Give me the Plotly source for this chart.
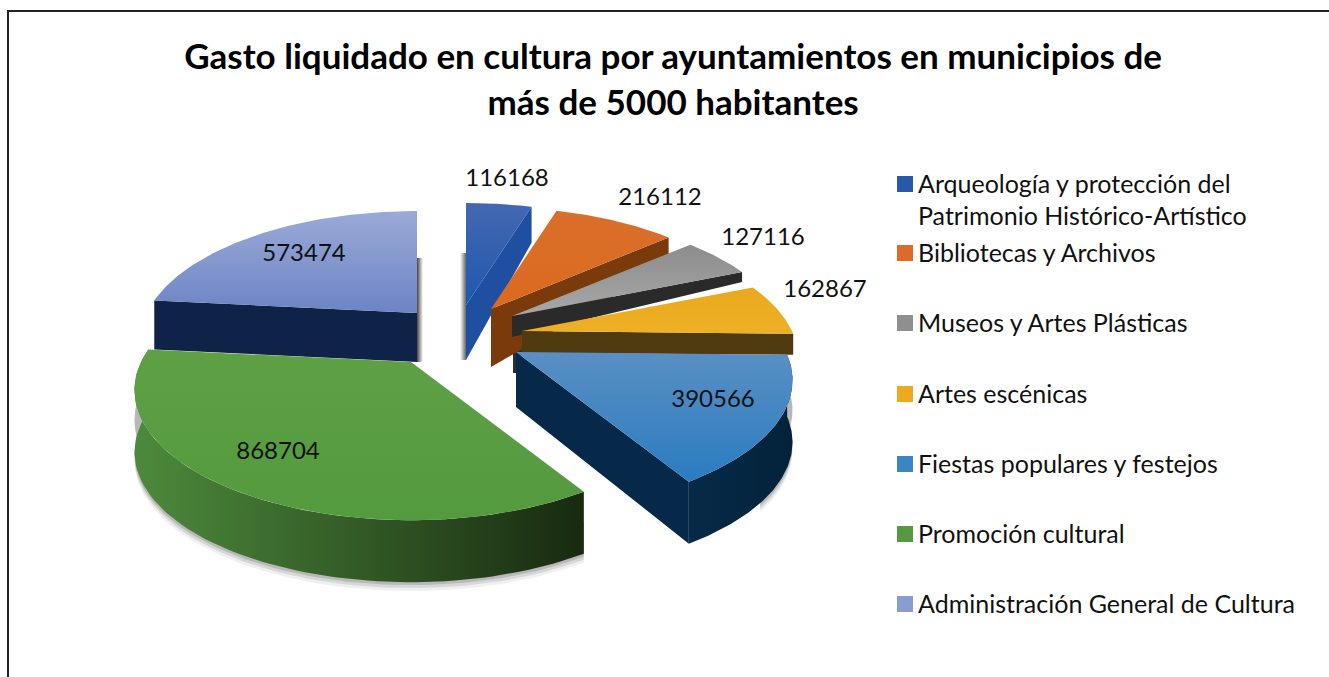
import numpy as np
import plotly.graph_objects as go

title = "Gasto liquidado en cultura por ayuntamientos en municipios de<br>más de 5000 habitantes"
categories = ["Arqueología y protección del<br>Patrimonio Histórico-Artístico", "Bibliotecas y Archivos",
              "Museos y Artes Plásticas", "Artes escénicas", "Fiestas populares y festejos",
              "Promoción cultural", "Administración General de Cultura"]
values = [116168, 216112, 127116, 162867, 390566, 868704, 573474]
swatch = ["#2a58a8", "#dd6a28", "#8f8f8f", "#eeaa1e", "#3a86c4", "#559a40", "#8a9dd2"]
top_grad = [["#4468b0", "#1e58b0"], ["#d96f2c", "#dc6a1e"], ["#8c8c8c", "#a8a8a8"], ["#e9a91e", "#eeb024"],
            ["#5a8fc4", "#2a7cc0"], ["#5fa045", "#549a3e"], ["#9aaad8", "#6d84c4"]]
cut_col = ["#1f4fa0", "#7a3a0c", "#2a2a2a", "#503a10", "#06294a", None, "#0f2248"]
rim_grad = [None, None, None, None, ["#072a48", "#03223a"], ["#4d8a3c", "#182a10"], None]

# explode position of each slice's point, and extrusion depth at point / rim
apex_x = [466, 491, 512, 522, 516, 411, 417]
apex_y = [305, 309, 316, 331, 352, 362, 313]
depth_apex = [55, 58, 21, 22, 55, 62, 49]
depth_rim = [36, 27, 10, 21, 62, 62, 49]

# value labels
label_x = [507, 660, 763, 825, 713, 278, 304]
label_y = [180, 199, 239, 291, 401, 453, 255]

# legend rows
legend_marker_y = [184, 253, 323, 394, 464, 534, 604]
legend_line_gap = 32
legend_text_drop = 3
legend_marker_x = 905
legend_text_x = 918

SX, SY, K = 270, 124, 0.216
total = sum(values)
edges = np.cumsum([0] + values) / total * 2 * np.pi


def project(i, th, r=1.0):
    u = r * np.sin(th)
    v = -r * np.cos(th)
    w = 1 - K * v
    return apex_x[i] + SX * u / w, apex_y[i] + SY * v / w


def add_poly(fig, x, y, grad=None, color=None, gtype="vertical"):
    kw = dict(x=list(x) + [x[0]], y=list(y) + [y[0]], mode="lines", line=dict(width=0),
              fill="toself", hoverinfo="skip", showlegend=False)
    if grad:
        kw["fillgradient"] = dict(type=gtype, colorscale=[[0, grad[0]], [1, grad[1]]])
    else:
        kw["fillcolor"] = color
    fig.add_trace(go.Scatter(**kw))


fig = go.Figure()

# soft shadows below the front rims
for idx, dep, keep in [(5, 62, 1.0), (4, 62, 0.65)]:
    tt = np.linspace(edges[idx], edges[idx] + keep * (edges[idx + 1] - edges[idx]), 100)
    xs, ys = project(idx, tt)
    for grow, op in [(9, 0.06), (6, 0.1), (3, 0.14)]:
        add_poly(fig, list(xs) + list(xs[::-1]), list(ys + 30) + list((ys + dep + grow)[::-1]),
                 color=f"rgba(0,0,0,{op})")

# slim shadows beside the blue and violet slices, dark inner wall behind the yellow slice
add_poly(fig, [460, 466, 466, 460], [253, 253, 360, 360], grad=["#ffffff", "#666666"], gtype="horizontal")
add_poly(fig, [417, 423, 423, 417], [258, 258, 362, 362], grad=["#444444", "#ffffff"], gtype="horizontal")
add_poly(fig, [513, 523, 523, 516, 513], [320, 326, 352, 373, 373], color="#2c2c2c")

order = [0, 1, 2, 3, 6, 4, 5]
for i in order:
    a, b = edges[i], edges[i + 1]
    th = np.linspace(a, b, 80)
    xr, yr = project(i, th)
    ax, ay = apex_x[i], apex_y[i]
    if cut_col[i]:
        ex, ey = (xr[0], yr[0]) if i == 6 else (xr[-1], yr[-1])
        add_poly(fig, [ax, ex, ex, ax], [ay, ey, ey + depth_rim[i], ay + depth_apex[i]], color=cut_col[i])
    if rim_grad[i]:
        add_poly(fig, list(xr) + list(xr[::-1]), list(yr) + list((yr + depth_rim[i])[::-1]),
                 grad=rim_grad[i], gtype="horizontal")
    add_poly(fig, [ax] + list(xr), [ay] + list(yr), grad=top_grad[i][::-1])

fig.add_trace(go.Scatter(x=label_x, y=label_y, mode="text", text=[str(v) for v in values],
                         textfont=dict(family="Lato", size=24, color="#111"), hoverinfo="skip", showlegend=False))

# legend rows drawn in place, swatch level with the first line of each entry
for c, s, my in zip(categories, swatch, legend_marker_y):
    lines = c.split("<br>")
    fig.add_trace(go.Scatter(x=[legend_marker_x], y=[my], mode="markers", name=c.replace("<br>", " "),
                             marker=dict(symbol="square", size=16, color=s, line=dict(width=0)),
                             hoverinfo="name", showlegend=False))
    fig.add_trace(go.Scatter(x=[legend_text_x] * len(lines),
                             y=[my + legend_text_drop + n * legend_line_gap for n in range(len(lines))],
                             mode="text", text=lines, textposition="middle right",
                             textfont=dict(family="Lato", size=25, color="#111"),
                             hoverinfo="skip", showlegend=False))

fig.update_layout(
    width=1329, height=677, margin=dict(l=0, r=0, t=0, b=0), paper_bgcolor="white", plot_bgcolor="white",
    showlegend=False,
    xaxis=dict(range=[0, 1329], visible=False, fixedrange=True),
    yaxis=dict(range=[677, 0], visible=False, fixedrange=True),
    title=dict(text=title, x=0.5065, xanchor="center", y=0.898, yanchor="bottom",
               font=dict(family="Lato", size=35, color="black", weight="bold")),
    shapes=[dict(type="path", xref="x", yref="y", path="M8,677 L8,11 L1329,11",
                 line=dict(color="#222222", width=2))],
)
fig.write_html("out.html", post_script="document.body.style.margin='0';", config=dict(displayModeBar=False))
